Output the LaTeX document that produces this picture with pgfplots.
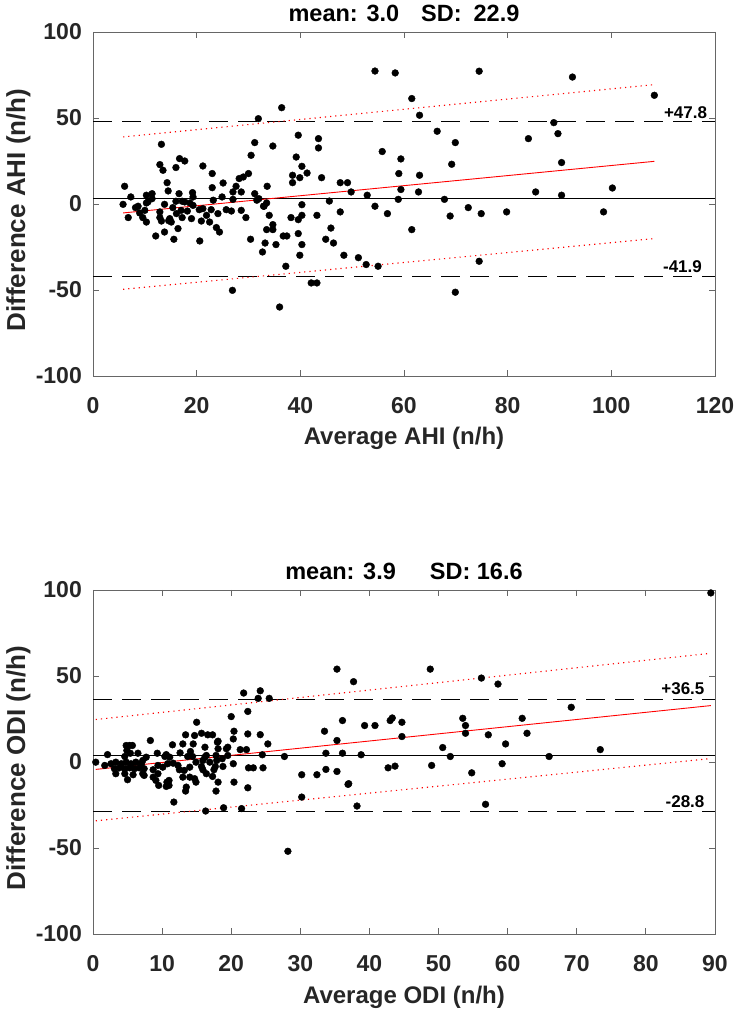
\documentclass[border=0pt]{standalone}
\usepackage{pgfplots}
\pgfplotsset{compat=1.18}
\usepackage{fontspec}
\setmainfont{Liberation Sans}
\definecolor{axgray}{HTML}{262626}
\pgfplotsset{
  ba/.style={
    scale only axis, width=622pt, height=344pt,
    ymin=-100, ymax=100,
    ytick={-100,-50,0,50,100},
    yticklabels={-100,-50,0,50,100},
    tick align=inside, major tick length=6pt,
    axis line style={draw=black!60, line width=0.8pt},
    every tick/.style={black!60, line width=0.8pt},
    tick label style={font=\fontsize{23}{23}\selectfont\bfseries, text=axgray, inner sep=0pt},
    xticklabel style={anchor=north, yshift=-21pt},
    yticklabel style={anchor=east, xshift=-11pt},
    label style={font=\fontsize{24}{24}\selectfont\bfseries, text=axgray},
    xlabel style={at={([yshift=-69pt]axis description cs:0.5,0)}, anchor=base},
    ylabel style={at={([xshift=-68pt,yshift=-6pt]axis description cs:0,0.5)}, anchor=base, font=\fontsize{26}{26}\selectfont\bfseries},
    title style={at={([yshift=4pt]axis description cs:0.5,1)}, anchor=base, font=\fontsize{23.5}{23.5}\selectfont\bfseries},
    clip=false,
  },
  pts/.style={only marks, mark=*, mark size=3.4pt, mark options={draw=black, fill=black}},
}
\tikzset{ann/.style={anchor=base east, font=\fontsize{17}{17}\selectfont\bfseries, inner sep=0pt}}
\begin{document}
\begin{tikzpicture}
\path[use as bounding box] (0,0) rectangle (739pt,1012pt);
% ---------------- top panel ----------------
\begin{axis}[ba, at={(93pt,636pt)}, anchor=south west,
  xmin=0, xmax=120, xtick={0,20,40,60,80,100,120},
  xticklabels={0,20,40,60,80,100,120},
  xlabel={Average AHI (n/h)}, ylabel={Difference AHI (n/h)},
  title={mean: 3.0\hspace{22pt}SD:\hspace{12pt}22.9}]
\addplot[black, line width=0.9pt] coordinates {(0,3.0) (120,3.0)};
\addplot[black, line width=0.9pt, dash pattern=on 19pt off 10pt] coordinates {(0,47.8) (120,47.8)};
\addplot[black, line width=0.9pt, dash pattern=on 19pt off 10pt] coordinates {(0,-41.9) (120,-41.9)};
\addplot[red, line width=0.9pt] coordinates {(5.8,-5.2) (108.3,24.8)};
\addplot[red, line width=1.1pt, dash pattern=on 1.2pt off 4pt] coordinates {(5.8,39.0) (108.3,69.4)};
\addplot[red, line width=1.1pt, dash pattern=on 1.2pt off 4pt] coordinates {(5.8,-49.6) (108.3,-20.1)};
\addplot[pts] table {
x y
13.2 34.7
31.2 35.7
30.5 28.3
12.9 22.9
13.5 19.6
16.7 26.4
17.7 25.0
16.0 21.2
21.2 22.1
23.0 17.7
30.0 17.7
28.2 14.8
29.0 15.7
14.3 12.4
6.1 10.3
25.1 12.2
23.0 9.5
27.6 10.3
14.5 7.6
27.0 7.0
28.6 7.0
31.2 6.0
7.3 4.1
10.3 5.1
11.4 6.0
16.6 6.0
19.2 6.6
11.4 3.1
19.3 4.1
24.9 4.1
27.0 2.7
5.8 -0.2
8.7 -1.3
10.6 1.2
13.8 -0.2
16.0 1.6
17.7 1.2
23.2 2.2
19.3 -0.8
21.2 -2.7
10.0 -3.7
9.0 -5.2
12.9 -4.6
17.0 -3.7
20.5 -3.3
22.8 -3.3
25.7 -3.3
26.7 -4.1
28.6 -3.7
6.8 -7.9
9.6 -7.9
12.9 -7.9
14.8 -8.5
17.2 -7.9
19.0 -8.5
21.9 -6.6
24.1 -5.6
29.5 -7.9
10.3 -10.5
15.1 -10.5
20.9 -9.9
22.5 -10.5
16.4 -14.3
23.8 -13.7
24.4 -16.3
13.8 -16.3
12.1 -18.6
15.6 -20.5
20.6 -21.5
30.4 -20.5
32.7 -27.9
32.9 -1.3
14.6 -9.7
17.2 1.6
18.7 0.6
15.4 -2.1
18.2 -4.1
13.2 -9.9
16.1 -5.6
10.3 0.6
8.2 -2.1
36.4 56.0
31.9 49.6
61.5 61.3
63.0 51.6
34.7 33.7
39.6 40.0
43.5 38.0
43.5 32.6
55.8 30.5
39.2 27.3
40.3 21.9
41.3 18.0
38.5 16.7
39.9 15.3
38.5 12.4
44.1 15.3
59.4 26.2
59.0 17.7
63.0 16.7
47.7 12.4
49.1 12.4
49.8 7.0
59.4 8.4
62.8 7.0
52.9 5.1
58.9 2.7
45.6 1.7
33.6 10.3
32.0 3.1
33.5 0.6
33.0 -1.3
40.3 -0.4
54.4 -1.3
34.0 -6.6
38.2 -7.9
40.3 -6.6
39.6 -9.1
43.2 -6.6
47.7 -4.6
56.8 -5.6
34.7 -12.0
33.5 -14.9
34.7 -14.9
39.6 -17.2
45.9 -14.0
61.5 -14.9
33.2 -22.7
35.3 -23.6
36.7 -18.6
37.4 -18.6
40.3 -23.6
44.9 -20.5
46.4 -22.7
39.9 -29.8
48.4 -29.8
51.2 -31.2
52.7 -35.2
55.0 -36.2
37.2 -36.2
42.1 -45.9
43.2 -45.9
36.0 -59.9
26.9 -50.2
31.6 2.2
54.4 77.3
58.3 76.2
74.5 77.2
92.5 73.8
108.3 63.2
88.9 47.3
89.7 40.9
66.4 42.3
69.9 35.7
84.0 38.0
69.2 23.1
90.4 24.1
85.4 7.0
90.4 5.1
100.2 9.3
67.8 2.7
72.4 -2.1
68.9 -7.0
74.9 -5.6
79.8 -4.6
98.5 -4.6
74.5 -33.3
69.9 -51.3
};
\node[ann] at ([yshift=3.5pt]axis cs:118.5,47.8) {+47.8};
\node[ann] at ([yshift=3.5pt]axis cs:117.5,-41.9) {-41.9};
\end{axis}
% ---------------- bottom panel ----------------
\begin{axis}[ba, at={(93pt,78pt)}, anchor=south west,
  xmin=0, xmax=90, xtick={0,10,20,30,40,50,60,70,80,90},
  xticklabels={0,10,20,30,40,50,60,70,80,90},
  xlabel={Average ODI (n/h)}, ylabel={Difference ODI (n/h)},
  title={mean: 3.9\hspace{34pt}SD: 16.6}]
\addplot[black, line width=0.9pt] coordinates {(0,3.9) (90,3.9)};
\addplot[black, line width=0.9pt, dash pattern=on 19pt off 10pt] coordinates {(0,36.5) (90,36.5)};
\addplot[black, line width=0.9pt, dash pattern=on 19pt off 10pt] coordinates {(0,-28.8) (90,-28.8)};
\addplot[red, line width=0.9pt] coordinates {(0.4,-4.3) (89.4,32.8)};
\addplot[red, line width=1.1pt, dash pattern=on 1.2pt off 4pt] coordinates {(0.4,24.7) (89.4,63.2)};
\addplot[red, line width=1.1pt, dash pattern=on 1.2pt off 4pt] coordinates {(0.4,-34.2) (89.4,2.0)};
\addplot[pts] table {
x y
89.4 98.3
48.8 54.0
56.2 48.8
58.6 45.3
69.2 31.8
44.7 23.1
53.5 25.4
53.9 21.2
53.9 16.7
57.2 15.8
62.1 25.4
62.8 16.7
59.7 10.5
50.6 8.4
51.7 3.2
66.0 3.2
73.4 7.2
44.7 14.8
49.0 -2.0
59.2 -1.0
54.8 -6.3
56.8 -24.6
35.3 54.0
37.7 46.7
21.8 40.1
24.2 41.4
23.9 37.0
25.5 37.0
22.4 29.4
20.0 26.4
36.1 24.1
39.3 21.2
40.8 21.2
43.0 24.1
43.3 25.6
33.5 17.9
35.3 12.5
33.7 5.1
36.1 5.1
38.8 4.2
27.7 3.2
24.6 -3.4
22.4 16.3
24.2 15.9
20.4 17.9
25.3 10.5
24.5 4.2
21.3 7.2
22.2 7.2
20.3 13.4
19.5 8.6
19.5 3.8
20.3 -1.0
22.5 -3.4
23.2 -3.4
30.2 -7.4
32.4 -7.4
33.7 -4.3
35.3 -5.5
37.0 -12.6
42.7 -3.4
43.7 -2.4
20.4 -11.7
22.4 -15.0
15.0 23.1
13.4 15.8
14.7 15.4
15.7 16.7
16.6 15.8
17.3 15.8
18.1 12.1
14.5 10.5
16.2 8.6
18.0 11.5
13.0 10.5
16.2 2.8
12.6 5.3
11.5 10.0
8.3 12.5
9.3 5.1
10.4 3.2
11.1 2.8
14.1 6.1
13.7 3.2
14.4 3.2
16.4 3.8
18.1 7.7
17.8 3.8
19.3 7.7
10.6 4.3
4.8 9.6
5.3 9.6
5.7 9.6
4.9 6.7
5.4 5.1
4.6 3.2
6.5 5.1
7.7 2.8
7.2 0.9
2.1 4.3
0.4 -0.1
1.7 -2.0
2.6 -1.0
3.3 -0.1
4.1 -1.0
4.8 -0.1
5.5 -1.0
6.2 -0.1
7.0 -1.0
3.1 -3.9
3.8 -3.4
4.6 -3.9
5.3 -3.4
6.0 -3.9
6.7 -3.4
7.4 -3.9
3.3 -6.8
4.6 -6.8
5.8 -7.4
7.2 -6.8
8.7 -4.5
9.4 -2.0
10.1 -3.0
10.8 -1.0
11.6 -0.7
12.3 -2.0
13.2 -4.9
14.0 -3.0
5.0 -10.3
7.4 -7.8
8.7 -8.8
9.4 -6.8
9.1 -10.7
9.5 -13.6
10.6 -14.2
11.0 -10.7
12.5 -4.5
13.0 -8.8
14.0 -8.8
13.5 -14.6
13.4 -16.9
14.7 -9.7
14.9 -11.7
15.7 -2.6
15.9 -4.5
16.4 -6.8
17.5 -4.5
17.7 -2.6
17.3 -8.4
18.1 -11.7
17.8 -16.9
18.8 -2.6
11.7 -23.3
16.3 -28.5
18.9 -26.6
21.5 -27.1
14.9 -0.1
15.9 0.9
16.9 -0.1
17.9 0.9
18.7 1.9
28.2 -51.9
30.2 -20.4
36.9 -13.0
38.2 -25.6
11.0 -13.6
10.7 -11.7
};
\node[ann] at ([yshift=5pt]axis cs:88.5,36.5) {+36.5};
\node[ann] at ([yshift=4.5pt]axis cs:88.5,-28.8) {-28.8};
\end{axis}
\end{tikzpicture}
\end{document}
